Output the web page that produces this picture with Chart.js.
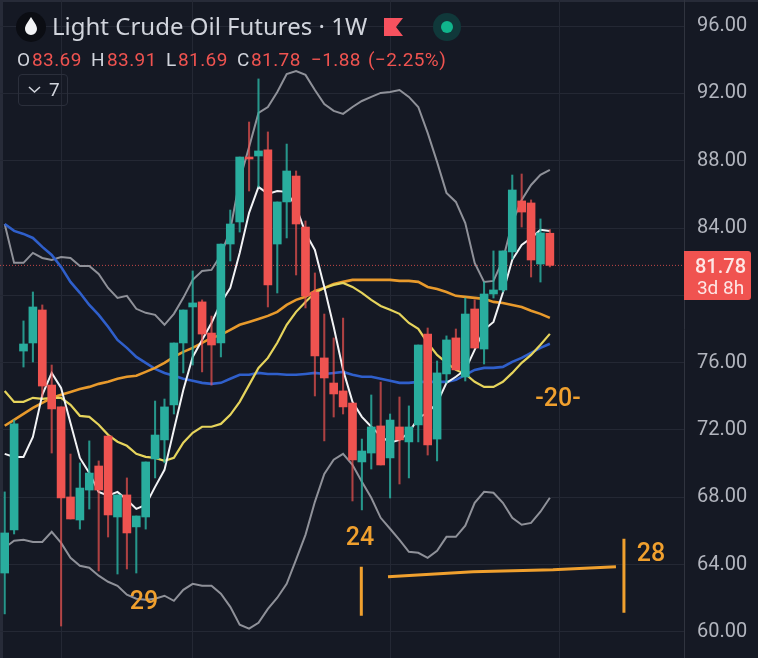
<!DOCTYPE html>
<html>
<head>
<meta charset="utf-8">
<script src="https://cdn.jsdelivr.net/npm/chart.js@4"></script>
<style>
  html, body { margin: 0; padding: 0; background: #151924; }
  #wrap { position: relative; width: 758px; height: 658px; overflow: hidden; font-family: Roboto, sans-serif; color: #d1d4dc; }
  canvas { position: absolute; left: 0; top: 0; }
  .strip { position: absolute; background: #272b38; }
  .t { position: absolute; white-space: nowrap; line-height: 1; }
  .r { color: #ef5350; }
  #title { left: 52px; top: 14px; font-family: "Noto Sans", sans-serif; font-size: 24px; }
  .ohlc { top: 50px; font-size: 19px; letter-spacing: 0.4px; }
  #more { position: absolute; left: 18px; top: 74px; width: 48px; height: 30px; border: 1px solid #2b2f3b; border-radius: 4px; }
  #price { position: absolute; left: 684px; top: 251px; width: 67px; height: 49px; background: #f05350; border-radius: 0 3px 3px 0; color: #fde6e5; text-align: center; }
  #icons { position: absolute; left: 0; top: 0; }
</style>
</head>
<body>
<div id="wrap">
  <div class="strip" style="left:0;top:0;width:3px;height:658px"></div>
  <div class="strip" style="left:0;top:0;width:758px;height:2px"></div>
  <canvas id="chart" width="758" height="658"></canvas>
  <svg id="icons" width="758" height="110">
    <circle cx="31" cy="27" r="15" fill="#0b0d13"/>
    <path d="M31 17 C34 22 37 25 37 29 A6 6 0 0 1 25 29 C25 25 28 22 31 17 Z" fill="#f2f3f5"/>
    <path d="M384 18 H403 L396 27 L403 36 H384 Z" fill="#f7525f"/>
    <circle cx="447" cy="27" r="14" fill="#10383a"/>
    <circle cx="447" cy="27" r="6" fill="#10b58c"/>
    <path d="M29 87 L34.5 92 L40 87" fill="none" stroke="#d1d4dc" stroke-width="1.6"/>
  </svg>
  <div class="t" id="title">Light Crude Oil Futures · 1W</div>
  <div class="t ohlc" style="left:17px">O</div><div class="t ohlc r" style="left:32px">83.69</div>
  <div class="t ohlc" style="left:91px">H</div><div class="t ohlc r" style="left:107px">83.91</div>
  <div class="t ohlc" style="left:166px">L</div><div class="t ohlc r" style="left:178px">81.69</div>
  <div class="t ohlc" style="left:237px">C</div><div class="t ohlc r" style="left:251px">81.78</div>
  <div class="t ohlc r" style="left:311px">−1.88</div><div class="t ohlc r" style="left:368px">(−2.25%)</div>
  <div id="more"></div>
  <div class="t" style="left:49px;top:80px;font-size:19px">7</div>
  <div id="price">
    <div class="t" style="left:3px;width:67px;top:5px;font-size:20px;font-weight:500">81.78</div>
    <div class="t" style="left:3px;width:67px;top:27px;font-size:19px">3d 8h</div>
  </div>
</div>
<script>
const opens = [63.50,66.06,76.69,77.17,79.13,74.67,73.37,68.02,66.65,68.43,69.86,71.64,66.83,68.14,66.24,66.83,70.28,71.41,73.49,77.17,79.31,79.61,77.76,77.17,83.05,84.36,88.22,88.28,88.64,83.05,85.55,87.09,84.06,80.20,76.28,74.79,74.32,73.60,70.10,70.63,72.24,70.34,72.18,71.29,72.30,77.70,71.46,75.33,77.47,75.15,79.19,76.81,80.08,80.32,82.58,85.61,85.49,81.86,83.69];
const highs = [68.32,72.59,78.48,80.20,79.43,75.86,73.37,70.57,70.04,71.35,70.16,71.64,68.14,69.15,66.89,70.10,73.72,73.84,77.17,79.13,81.45,79.73,78.77,83.05,85.07,88.22,90.30,92.86,89.71,85.55,88.99,87.39,84.42,81.33,78.89,77.47,78.65,73.60,71.46,74.08,74.85,72.95,73.96,73.43,77.05,78.06,76.10,77.59,78.00,79.84,79.73,80.79,82.64,82.64,87.15,87.21,85.67,84.54,83.91];
const lows = [61.07,65.82,75.74,76.04,73.96,70.63,60.35,66.71,66.11,67.30,63.62,65.64,63.44,63.74,63.50,66.11,69.15,70.04,72.95,75.39,75.86,75.45,74.67,76.34,82.04,83.76,86.20,86.44,79.31,80.14,83.41,81.21,79.25,74.02,71.35,72.77,72.95,67.78,67.25,69.68,69.92,67.96,68.79,69.15,71.29,70.51,70.16,74.79,75.57,74.91,76.87,75.92,79.84,80.20,82.16,84.06,81.09,80.79,81.69];
const closes = [65.88,72.36,77.11,79.31,74.61,73.25,67.96,66.71,68.55,69.44,68.43,66.95,68.14,65.88,66.89,70.10,71.70,73.37,77.17,79.13,79.55,77.70,77.05,83.05,84.24,88.22,88.10,88.58,80.62,85.55,87.39,84.24,79.96,76.40,75.09,74.14,73.37,70.22,70.75,72.18,69.92,72.59,71.41,72.18,77.05,71.11,75.39,77.35,75.57,78.89,76.87,80.08,80.32,82.64,86.26,84.95,82.10,83.71,81.78];

const upperBand = [84.24,81.93,81.93,82.52,82.22,82.10,82.28,82.22,81.75,81.75,81.27,80.44,79.85,79.97,79.20,78.96,78.84,78.25,78.90,79.85,80.92,81.45,81.51,82.40,83.89,86.86,88.82,90.84,91.19,92.08,93.15,93.33,93.10,92.20,91.37,90.96,90.78,91.19,91.55,91.79,92.03,92.08,92.20,91.79,91.19,89.65,87.93,86.09,85.55,84.30,81.93,80.80,80.86,82.11,84.30,85.67,86.56,87.16,87.45];
const lowerBand = [65.00,65.42,65.47,65.35,65.35,65.95,65.29,64.40,63.93,63.81,63.34,62.98,62.74,62.21,61.97,61.91,61.97,62.15,61.85,62.50,62.86,62.74,62.74,62.27,61.49,60.43,60.19,60.54,61.37,62.03,62.86,64.29,65.77,67.73,69.39,70.23,70.58,69.93,68.92,67.97,66.78,66.13,65.47,64.76,64.70,64.40,64.82,65.65,65.65,66.31,67.67,68.33,68.27,67.67,66.78,66.37,66.48,67.14,67.97];
const whiteMa = [70.58,70.40,70.40,71.59,74.09,75.39,74.50,72.42,70.34,69.45,68.32,68.09,68.32,67.85,67.31,67.55,68.62,69.63,72.01,74.38,76.34,77.35,78.36,79.55,80.44,82.52,84.90,86.44,86.03,86.20,86.15,85.25,83.71,82.70,80.50,78.13,75.57,73.67,72.78,72.19,71.65,71.24,71.41,71.83,72.72,73.02,73.61,74.80,75.16,75.57,76.76,77.95,78.42,80.15,82.11,83.00,83.41,83.89,83.83];
const blueMa = [84.24,83.83,83.65,83.41,82.88,82.40,81.69,80.80,80.15,79.43,78.84,78.13,77.35,76.88,76.34,75.99,75.63,75.39,75.22,75.04,74.92,74.80,74.74,74.80,75.04,75.28,75.28,75.39,75.33,75.33,75.28,75.28,75.33,75.39,75.33,75.39,75.45,75.28,75.16,75.16,75.04,74.92,74.80,74.80,74.86,74.86,74.86,74.86,74.98,75.28,75.57,75.69,75.69,75.75,76.05,76.28,76.58,76.88,77.12];
const orangeMa = [72.25,72.60,72.96,73.31,73.61,73.91,74.09,74.26,74.44,74.56,74.74,74.86,75.04,75.16,75.22,75.45,75.69,75.99,76.34,76.64,76.88,77.18,77.47,77.65,77.95,78.25,78.42,78.60,78.78,79.02,79.43,79.73,79.91,80.26,80.44,80.68,80.80,80.92,80.92,80.92,80.92,80.92,80.86,80.86,80.80,80.50,80.38,80.20,79.97,79.91,79.85,79.79,79.61,79.55,79.43,79.31,79.08,78.90,78.66];
const yellowMa = [74.32,73.67,73.67,73.91,73.85,73.91,73.91,73.49,72.84,72.78,72.31,71.71,71.30,71.06,70.58,70.40,70.34,70.17,70.34,71.24,71.83,72.19,72.19,72.36,72.90,73.67,74.68,75.69,76.28,77.18,78.25,79.02,79.61,80.15,80.44,80.62,80.74,80.50,80.15,79.73,79.37,79.14,78.90,78.36,78.01,77.18,76.46,75.99,75.57,75.33,74.86,74.56,74.56,74.86,75.39,75.99,76.46,77.06,77.71];

const yTicks = [60, 64, 68, 72, 76, 80, 84, 88, 92, 96];
const xGridWeeks = [6, 20, 41, 59];
const lastClose = 81.78;

// hand drawn marks on the chart: [week, price] pairs
const markLeft = [[37.94, 63.87], [37.94, 60.96]];
const markLong = [[40.78, 63.28], [49.82, 63.57], [58.33, 63.69], [65.03, 63.87]];
const markRight = [[65.88, 65.53], [65.88, 61.14]];
const noteTexts = ['29', '24', '-20-', '28'];
const noteWeeks = [14.82, 37.8, 58.86, 68.76];
const notePrices = [61.73, 65.53, 73.79, 64.58];

const UP = '#29ad9e', DOWN = '#ef5350', MARK = '#f0a02e';
const UP_WICK = 'rgba(41,173,158,0.85)', DOWN_WICK = 'rgba(239,83,80,0.7)';
const xMin = -0.5, xMax = 72.27;

const up = opens.map((o, i) => closes[i] >= o);
const bodyColors = up.map(u => u ? UP : DOWN);
const wickColors = up.map(u => u ? UP_WICK : DOWN_WICK);

function lineSet(values, color, width, order) {
  return {
    type: 'line', data: values.map((v, i) => ({x: i, y: v})),
    borderColor: color, borderWidth: width, pointRadius: 0, tension: 0, order: order
  };
}
function markSet(points) {
  return {
    type: 'line', data: points.map(p => ({x: p[0], y: p[1]})),
    borderColor: MARK, borderWidth: 3, pointRadius: 0, tension: 0, order: 0
  };
}

const notesPlugin = {
  id: 'notes',
  afterDatasetsDraw(chart) {
    const c = chart.ctx;
    c.save();
    c.fillStyle = MARK;
    c.font = '500 25px Roboto';
    c.textAlign = 'center';
    c.textBaseline = 'middle';
    noteTexts.forEach((t, i) => {
      c.fillText(t, chart.scales.x.getPixelForValue(noteWeeks[i]), chart.scales.y.getPixelForValue(notePrices[i]));
    });
    c.restore();
  }
};

new Chart(document.getElementById('chart'), {
  type: 'bar',
  data: {
    datasets: [
      {
        data: opens.map((o, i) => ({x: i, y: [o, closes[i]]})),
        backgroundColor: bodyColors, barThickness: 8, grouped: false, order: 1
      },
      {
        data: lows.map((l, i) => ({x: i, y: [l, highs[i]]})),
        backgroundColor: wickColors, barThickness: 1.4, grouped: false, order: 2
      },
      lineSet(whiteMa, '#f2f3f5', 2, 3),
      lineSet(yellowMa, '#e6d45c', 2.2, 4),
      lineSet(orangeMa, '#e89a2c', 2.6, 5),
      lineSet(blueMa, '#2f5fcb', 2.6, 6),
      lineSet(upperBand, '#8f9199', 2, 7),
      lineSet(lowerBand, '#8f9199', 2, 7),
      {
        type: 'line', data: [{x: xMin, y: lastClose}, {x: xMax, y: lastClose}],
        borderColor: 'rgba(239,83,80,0.8)', borderWidth: 1, borderDash: [1, 2], pointRadius: 0, order: 8
      },
      markSet(markLeft), markSet(markLong), markSet(markRight)
    ]
  },
  options: {
    responsive: false,
    animation: false,
    layout: {padding: 0},
    plugins: {legend: {display: false}, tooltip: {enabled: false}},
    scales: {
      x: {
        type: 'linear', min: xMin, max: xMax, offset: false,
        afterBuildTicks: s => { s.ticks = xGridWeeks.map(v => ({value: v})); },
        afterFit: s => { s.height = 0; s.paddingLeft = 0; s.paddingRight = 0; },
        grid: {color: '#242834', drawTicks: false, offset: false},
        border: {display: false},
        ticks: {display: false}
      },
      y: {
        position: 'right', min: 58.45, max: 97.55,
        afterBuildTicks: s => { s.ticks = yTicks.map(v => ({value: v})); },
        afterFit: s => { s.width = 74; s.paddingTop = 0; s.paddingBottom = 0; },
        grid: {color: '#242834', drawTicks: false},
        border: {color: '#30343f'},
        ticks: {color: '#b2b5be', padding: 13, font: {family: 'Roboto', size: 20}, callback: v => v.toFixed(2)}
      }
    }
  },
  plugins: [notesPlugin]
});
</script>
</body>
</html>
